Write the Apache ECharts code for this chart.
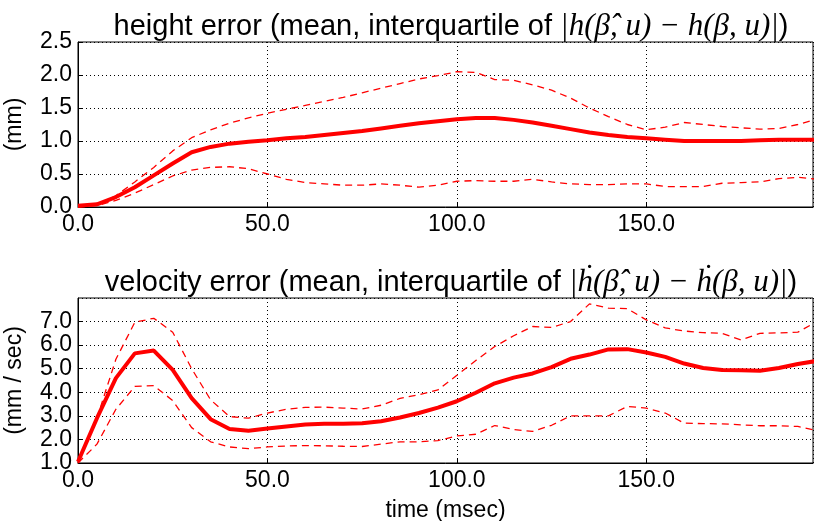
<!DOCTYPE html>
<html><head><meta charset="utf-8">
<script src="https://cdn.jsdelivr.net/npm/echarts@6/dist/echarts.min.js"></script>
<style>html,body{margin:0;padding:0;background:#fff}#c{width:814px;height:521px}</style>
</head><body><div id="c"></div>
<script>
const time = [0,5,10,15,20,25,30,35,40,45,50,55,60,65,70,75,80,85,90,95,100,105,110,115,120,125,130,135,140,145,150,155,160,165,170,175,180,185,190,195];
const heightMean = [0.02,0.04,0.15,0.30,0.48,0.66,0.83,0.91,0.96,0.99,1.01,1.04,1.06,1.09,1.12,1.15,1.19,1.23,1.27,1.30,1.33,1.35,1.35,1.32,1.28,1.23,1.18,1.13,1.09,1.06,1.04,1.02,1.00,1.00,1.00,1.00,1.01,1.02,1.02,1.02];
const heightUpper = [0.0,0.03,0.17,0.38,0.60,0.85,1.05,1.17,1.27,1.35,1.42,1.48,1.54,1.60,1.66,1.73,1.80,1.87,1.94,1.99,2.05,2.04,1.93,1.92,1.85,1.77,1.65,1.50,1.37,1.25,1.17,1.21,1.28,1.25,1.22,1.20,1.18,1.19,1.25,1.33];
const heightLower = [0.0,0.02,0.10,0.21,0.34,0.47,0.56,0.60,0.61,0.58,0.50,0.42,0.37,0.35,0.33,0.33,0.35,0.33,0.30,0.33,0.39,0.40,0.39,0.39,0.42,0.38,0.35,0.34,0.34,0.35,0.35,0.31,0.31,0.31,0.36,0.37,0.38,0.43,0.45,0.42];
const velMean = [1.05,2.9,4.6,5.65,5.77,4.95,3.75,2.86,2.44,2.37,2.46,2.55,2.63,2.66,2.67,2.69,2.77,2.93,3.12,3.35,3.62,3.98,4.38,4.62,4.80,5.07,5.42,5.60,5.82,5.83,5.69,5.50,5.22,5.03,4.95,4.93,4.91,5.03,5.20,5.33];
const velUpper = [1.0,2.9,5.4,6.97,7.14,6.55,5.0,3.68,2.97,2.9,3.12,3.28,3.36,3.37,3.33,3.29,3.45,3.74,3.9,4.1,4.72,5.35,5.94,6.4,6.79,6.75,7.0,7.75,7.57,7.55,7.07,6.73,6.6,6.53,6.5,6.22,6.5,6.52,6.55,7.0];
const velLower = [1.0,1.8,3.28,4.25,4.28,3.65,2.5,1.9,1.68,1.61,1.68,1.72,1.74,1.73,1.71,1.70,1.8,1.9,1.9,1.95,2.15,2.22,2.59,2.42,2.34,2.6,3.0,3.0,3.0,3.4,3.33,3.12,2.69,2.67,2.66,2.62,2.58,2.58,2.55,2.38];

const pair = ys => time.map((t,i)=>[t, ys[i]]);
const FONT = 'Liberation Sans';
const MATH = 'Liberation Serif';
const FS = 23;

function xAxis(idx, name){
  return {
    type:'value', gridIndex: idx, min:0, max:194, interval:50,
    name: name || '', nameLocation:'middle', nameGap: 36,
    nameTextStyle:{fontFamily:FONT, fontSize:FS, color:'#000'},
    axisLine:{show:true, lineStyle:{color:'#000', width:1}},
    axisTick:{show:true, inside:true, length:5, lineStyle:{color:'#000'}},
    axisLabel:{fontFamily:FONT, fontSize:FS, color:'#000', margin:6, showMaxLabel:false,
      formatter: v => v.toFixed(1)},
    splitLine:{show:true, lineStyle:{color:'#000', type:[1,3], width:1}}
  };
}
function yAxis(idx, min, max, interval, name, hideMax){
  return {
    type:'value', gridIndex: idx, min:min, max:max, interval:interval,
    name:name, nameLocation:'middle', nameGap: 52, nameRotate: 90,
    nameTextStyle:{fontFamily:FONT, fontSize:FS, color:'#000'},
    axisLine:{show:true, lineStyle:{color:'#000', width:1}},
    axisTick:{show:true, inside:true, length:5, lineStyle:{color:'#000'}},
    axisLabel:{fontFamily:FONT, fontSize:FS, color:'#000', margin:6, showMaxLabel: !hideMax,
      formatter: v => v.toFixed(1)},
    splitLine:{show:true, lineStyle:{color:'#000', type:[1,3], width:1}}
  };
}
function line(data, xi, dashed){
  return {
    type:'line', xAxisIndex:xi, yAxisIndex:xi, data:data, symbol:'none', silent:true,
    clip:true, animation:false,
    lineStyle: dashed ? {color:'#ff0000', width:1.3, type:[7,5]} : {color:'#ff0000', width:4}
  };
}
const richT = {
  n:{fontFamily:FONT, fontSize:29, fontWeight:'normal', color:'#000'},
  m:{fontFamily:MATH, fontSize:31, fontStyle:'italic', fontWeight:'normal', color:'#000'}
};
const chart = echarts.init(document.getElementById('c'), null, {renderer:'canvas'});
chart.setOption({
  animation:false,
  backgroundColor:'#fff',
  title:[
    {text:'{n|height error (mean, interquartile of }{m||h(β\u0302, u) − h(β, u)|}{n|)}', left:446, textAlign:'center', top:6,
      textStyle:{fontWeight:'normal', rich:richT}},
    {text:'{n|velocity error (mean, interquartile of }{m||ḣ(β\u0302, u) − ḣ(β, u)|}{n|)}', left:446, textAlign:'center', top:262,
      textStyle:{fontWeight:'normal', rich:richT}}
  ],
  grid:[
    {left:78, right:1, top:42, height:165, show:true, borderColor:'#000', borderWidth:1, backgroundColor:'transparent', outerBoundsMode:'none', containLabel:false},
    {left:78, right:1, top:298, height:165, show:true, borderColor:'#000', borderWidth:1, backgroundColor:'transparent', outerBoundsMode:'none', containLabel:false}
  ],
  xAxis:[xAxis(0), xAxis(1, 'time (msec)')],
  yAxis:[yAxis(0, 0, 2.5, 0.5, '(mm)', false), yAxis(1, 1, 8, 1, '(mm / sec)', true)],
  series:[
    line(pair(heightLower),0,true), line(pair(heightUpper),0,true), line(pair(heightMean),0,false),
    line(pair(velLower),1,true), line(pair(velUpper),1,true), line(pair(velMean),1,false)
  ]
});
</script></body></html>
